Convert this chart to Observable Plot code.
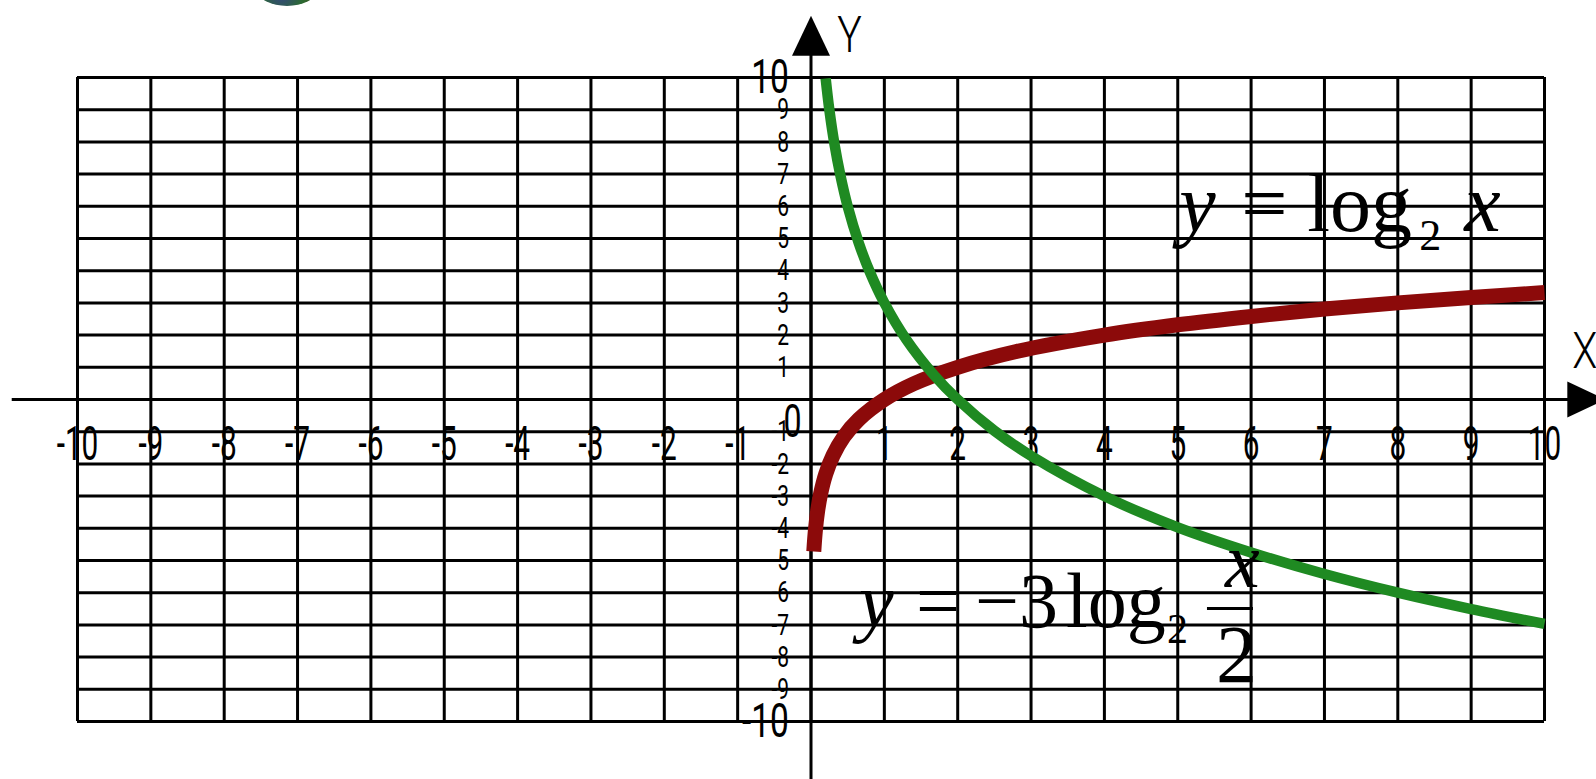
<!DOCTYPE html>
<html>
<head>
<meta charset="utf-8">
<script src="https://cdn.jsdelivr.net/npm/d3@7"></script>
<script src="https://cdn.jsdelivr.net/npm/@observablehq/plot@0.6"></script>
<style>
  html, body { margin: 0; padding: 0; background: #fff; overflow: hidden; }
  #chart { position: relative; width: 1596px; height: 779px; }
  #chart svg { display: block; position: absolute; left: 0; top: 0; }
  .badge {
    position: absolute; left: 258px; top: -24px; width: 58px; height: 30px; border-radius: 50%;
    background: radial-gradient(circle at 40% 65%, #34467e 0%, #2b6a31 55%, #4d4420 100%);
    z-index: 2;
  }
</style>
</head>
<body>
<div id="chart"><div class="badge"></div></div>
<script>
// Unit grid, one line per integer on both axes
const gridX = [-10, -9, -8, -7, -6, -5, -4, -3, -2, -1, 0, 1, 2, 3, 4, 5, 6, 7, 8, 9, 10];
const gridY = [-10, -9, -8, -7, -6, -5, -4, -3, -2, -1, 0, 1, 2, 3, 4, 5, 6, 7, 8, 9, 10];

// Tick labels along the axes
const xTickValues = [-10, -9, -8, -7, -6, -5, -4, -3, -2, -1, 1, 2, 3, 4, 5, 6, 7, 8, 9, 10];
const xTickLabels = ["-10", "-9", "-8", "-7", "-6", "-5", "-4", "-3", "-2", "-1", "1", "2", "3", "4", "5", "6", "7", "8", "9", "10"];
const yEndValues = [10, -10];
const yEndLabels = ["10", "-10"];
const yInnerValues = [9, 8, 7, 6, 5, 4, 3, 2, 1, -1, -2, -3, -4, -5, -6, -7, -8, -9];
const yInnerLabels = ["9", "8", "7", "6", "5", "4", "3", "2", "1", "-1", "-2", "-3", "-4", "-5", "-6", "-7", "-8", "-9"];
const originLabel = ["0"];
const axisNames = ["Y", "X"];

// y = log2 x  (dark red curve)
const logX = [0.038, 0.06, 0.09, 0.13, 0.2, 0.3, 0.45, 0.65, 1, 1.4, 2, 2.8, 4, 5, 6, 7, 8, 9, 10];
const logY = [-4.72, -4.06, -3.47, -2.94, -2.32, -1.74, -1.15, -0.62, 0, 0.49, 1, 1.49, 2, 2.32, 2.58, 2.81, 3, 3.17, 3.32];

// y = -3 log2 (x/2)  (green curve)
const scaledX = [0.2, 0.25, 0.32, 0.4, 0.5, 0.65, 0.8, 1, 1.3, 1.68, 2, 2.5, 3, 4, 5, 6, 7, 8, 9, 10];
const scaledY = [9.97, 9, 7.93, 6.97, 6, 4.87, 3.97, 3, 1.86, 0.75, 0, -0.97, -1.75, -3, -3.97, -4.75, -5.42, -6, -6.51, -6.97];

// Curve equations written on the chart
const formulaTexts = ["y = log₂ x", "y = −3log₂ x/2"];

// ---- presentation settings ----
const formulaAnchors = [{x: 5.02, y: 5.22}, {x: 0.654, y: -7.08}];
const formulaLayouts = [
  {size: 82, parts: [
    {t: "y", italic: true, x: 0, y: 0},
    {t: "=", x: 62, y: 0},
    {t: "log", x: 128, y: 0},
    {t: "2", x: 240, y: 19, size: 44},
    {t: "x", italic: true, x: 285, y: 0}
  ]},
  {size: 78, parts: [
    {t: "y", italic: true, x: 0, y: 0},
    {t: "=", x: 57, y: 0},
    {t: "−", x: 116, y: 0},
    {t: "3", x: 160, y: 0},
    {t: "log", x: 207, y: 0},
    {t: "2", x: 308, y: 16, size: 42},
    {t: "x", italic: true, x: 366, y: -40},
    {t: "2", x: 357, y: 55, size: 82}
  ], bar: {x1: 348, x2: 394, y: -19, width: 3}}
];

const labelFont = "Roboto, 'Liberation Sans', 'DejaVu Sans', sans-serif";
const mathFont = "'Liberation Serif', 'Times New Roman', 'DejaVu Serif', serif";
const red = "#8c0a0a";
const green = "#1f8a22";

// arrowheads for the axes
const arrowUp = {draw(context, size) {
  const r = Math.sqrt(size / Math.PI);
  context.moveTo(0, -r); context.lineTo(0.95 * r, r); context.lineTo(-0.95 * r, r); context.closePath();
}};
const arrowRight = {draw(context, size) {
  const r = Math.sqrt(size / Math.PI);
  context.moveTo(r, 0); context.lineTo(-r, 0.95 * r); context.lineTo(-r, -0.95 * r); context.closePath();
}};

const logPoints = logX.map((x, i) => ({x, y: logY[i]}));
const scaledPoints = scaledX.map((x, i) => ({x, y: scaledY[i]}));

// text marks, in drawing order, with the horizontal squeeze applied to each
const nameMark = Plot.text(axisNames, {
  x: [0.525, 10.55], y: [11.3, 1.46], text: d => d,
  fontFamily: labelFont, fontSize: 50, fontWeight: 300, fill: "#000",
  textAnchor: "middle", lineAnchor: "middle"
});
const xTickMark = Plot.text(xTickValues, {
  x: d => d, y: -1.4, text: (d, i) => xTickLabels[i],
  fontFamily: labelFont, fontSize: 48, fill: "#000",
  textAnchor: "middle", lineAnchor: "middle"
});
const yEndMark = Plot.text(yEndValues, {
  x: -0.3, y: d => d, text: (d, i) => yEndLabels[i],
  fontFamily: labelFont, fontSize: 48, fill: "#000",
  textAnchor: "end", lineAnchor: "middle"
});
const yInnerMark = Plot.text(yInnerValues, {
  x: -0.3, y: d => d, text: (d, i) => yInnerLabels[i],
  fontFamily: labelFont, fontSize: 30, fill: "#000",
  textAnchor: "end", lineAnchor: "middle"
});
const originMark = Plot.text(originLabel, {
  x: -0.25, y: -0.72, text: d => d,
  fontFamily: labelFont, fontSize: 46, fill: "#000",
  textAnchor: "middle", lineAnchor: "middle"
});
const formulaMark = Plot.text(formulaTexts, {
  x: (d, i) => formulaAnchors[i].x, y: (d, i) => formulaAnchors[i].y, text: d => d,
  fontFamily: mathFont, fontSize: 80, fill: "#000",
  textAnchor: "start", lineAnchor: "bottom"
});
const squeeze = [0.82, 0.62, 0.7, 0.7, 0.7, null];

const plot = Plot.plot({
  width: 1596,
  height: 779,
  marginLeft: 77,
  marginRight: 52,
  marginTop: 77,
  marginBottom: 58,
  x: {domain: [-10, 10], axis: null},
  y: {domain: [-10, 10], axis: null},
  style: {background: "white", overflow: "visible"},
  marks: [
    Plot.ruleX(gridX, {x: d => d, y1: -10, y2: 10, stroke: "#000", strokeWidth: 3}),
    Plot.ruleY(gridY, {y: d => d, x1: -10, x2: 10, stroke: "#000", strokeWidth: 3}),
    // axes with arrowheads
    Plot.ruleY([0], {y: d => d, x1: -10.89, x2: 10.4, stroke: "#000", strokeWidth: 3}),
    Plot.ruleX([0], {x: d => d, y1: -11.8, y2: 11.2, stroke: "#000", strokeWidth: 3}),
    Plot.dot([{x: 0, y: 11.3}], {x: "x", y: "y", r: 20, symbol: arrowUp, fill: "#000", stroke: null}),
    Plot.dot([{x: 10.57, y: 0}], {x: "x", y: "y", r: 19, symbol: arrowRight, fill: "#000", stroke: null}),
    nameMark, xTickMark, yEndMark, yInnerMark, originMark,
    // the two curves
    Plot.line(logPoints, {x: "x", y: "y", stroke: red, strokeWidth: 15, curve: "catmull-rom", strokeLinecap: "butt"}),
    Plot.line(scaledPoints, {x: "x", y: "y", stroke: green, strokeWidth: 10.5, curve: "catmull-rom", strokeLinecap: "butt"}),
    // equations
    formulaMark
  ]
});

const svgNS = "http://www.w3.org/2000/svg";
const textGroups = plot.querySelectorAll('g[aria-label="text"]');

// condensed look for the axis numerals and names
textGroups.forEach((g, k) => {
  const sx = squeeze[k];
  if (sx == null) return;
  g.querySelectorAll("text").forEach(t => {
    const tr = t.getAttribute("transform") || "";
    t.setAttribute("transform", `${tr} scale(${sx},1)`);
  });
});

// typeset the equations: italic variables, subscripts and a stacked fraction
textGroups[textGroups.length - 1].querySelectorAll("text").forEach((t, i) => {
  const layout = formulaLayouts[i];
  t.textContent = "";
  t.removeAttribute("y");
  t.setAttribute("font-size", layout.size);
  for (const p of layout.parts) {
    const ts = document.createElementNS(svgNS, "tspan");
    ts.textContent = p.t;
    ts.setAttribute("x", p.x);
    ts.setAttribute("y", p.y);
    if (p.italic) ts.setAttribute("font-style", "italic");
    if (p.size) ts.setAttribute("font-size", p.size);
    t.appendChild(ts);
  }
  if (layout.bar) {
    const b = layout.bar;
    const line = document.createElementNS(svgNS, "line");
    line.setAttribute("x1", b.x1); line.setAttribute("x2", b.x2);
    line.setAttribute("y1", b.y); line.setAttribute("y2", b.y);
    line.setAttribute("stroke", "#000"); line.setAttribute("stroke-width", b.width);
    line.setAttribute("transform", t.getAttribute("transform") || "");
    t.parentNode.appendChild(line);
  }
});

const chart = document.getElementById("chart");
chart.insertBefore(plot, chart.firstChild);
</script>
</body>
</html>
